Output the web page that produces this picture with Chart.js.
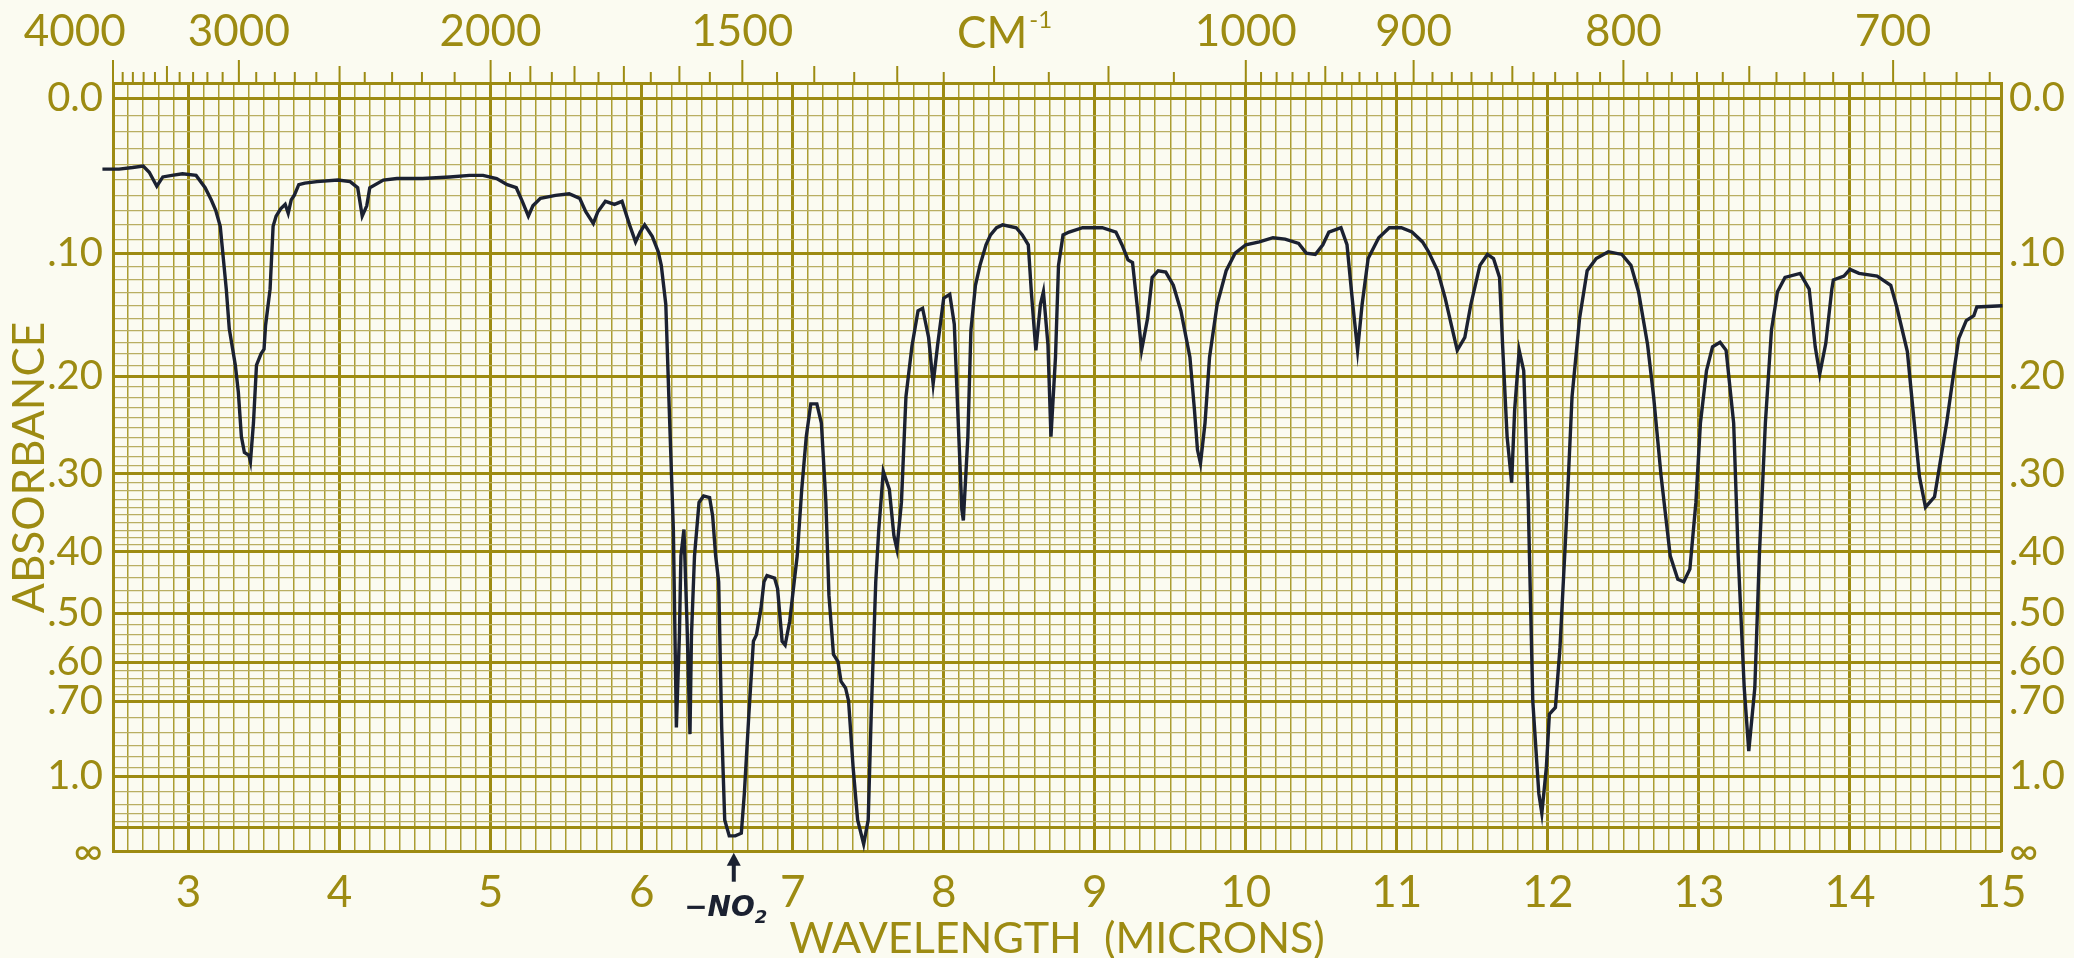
<!DOCTYPE html>
<html><head><meta charset="utf-8">
<script src="https://cdn.jsdelivr.net/npm/chart.js@4.4.1/dist/chart.umd.min.js"></script>
<style>
html,body{margin:0;padding:0;background:#fbfbf1;}
#wrap{width:2074px;height:958px;position:relative;background:#fbfbf1;}
canvas{display:block;}
</style></head><body><div id="wrap"><canvas id="c" width="2074" height="958"></canvas></div>
<script>
// ---- spectrum (wavelength in microns, absorbance) ----
const wavelengthMicrons = [
2.43,2.54,2.63,2.70,2.74,2.79,2.83,2.89,2.96,3.05,3.11,3.15,3.18,3.21,3.25,3.27,3.31,3.33,3.35,3.37,
3.40,3.41,3.43,3.45,3.48,3.50,3.51,3.54,3.56,3.58,3.61,3.64,3.66,3.68,3.70,3.73,3.77,3.85,3.99,4.07,
4.12,4.15,4.18,4.20,4.29,4.38,4.55,4.73,4.86,4.95,5.04,5.11,5.17,5.21,5.25,5.28,5.33,5.43,5.52,5.59,
5.63,5.68,5.71,5.76,5.82,5.87,5.92,5.96,5.99,6.02,6.07,6.11,6.13,6.16,6.18,6.21,6.23,6.25,6.26,6.28,
6.30,6.32,6.33,6.35,6.38,6.41,6.45,6.47,6.49,6.51,6.53,6.55,6.58,6.62,6.66,6.68,6.71,6.74,6.76,6.79,
6.81,6.83,6.88,6.90,6.93,6.95,6.98,7.01,7.03,7.06,7.09,7.12,7.16,7.19,7.22,7.24,7.27,7.30,7.32,7.35,
7.37,7.40,7.43,7.47,7.50,7.52,7.55,7.57,7.60,7.64,7.67,7.69,7.72,7.75,7.79,7.83,7.86,7.90,7.93,7.96,
8.00,8.04,8.07,8.10,8.12,8.13,8.16,8.18,8.21,8.24,8.28,8.31,8.35,8.39,8.48,8.52,8.56,8.58,8.61,8.64,
8.66,8.69,8.71,8.74,8.76,8.79,8.83,8.92,9.05,9.14,9.18,9.22,9.25,9.28,9.31,9.35,9.38,9.42,9.47,9.52,
9.57,9.63,9.66,9.68,9.70,9.73,9.76,9.81,9.87,9.93,10.00,10.09,10.18,10.26,10.35,10.40,10.46,10.51,10.55,10.63,
10.67,10.70,10.74,10.77,10.81,10.88,10.95,11.03,11.10,11.17,11.21,11.27,11.32,11.36,11.40,11.45,11.49,11.55,11.60,11.64,
11.68,11.70,11.73,11.76,11.78,11.81,11.84,11.87,11.90,11.94,11.96,11.99,12.01,12.05,12.08,12.12,12.16,12.21,12.26,12.32,
12.40,12.49,12.55,12.60,12.66,12.70,12.75,12.81,12.86,12.90,12.94,12.98,13.01,13.05,13.09,13.14,13.18,13.23,13.26,13.30,
13.33,13.37,13.40,13.44,13.48,13.52,13.57,13.67,13.73,13.77,13.80,13.84,13.88,13.89,13.96,14.00,14.06,14.18,14.27,14.31,
14.38,14.42,14.46,14.50,14.56,14.64,14.69,14.72,14.77,14.82,14.84,15.01
];
const absorbance = [
.043,.043,.042,.041,.045,.054,.048,.047,.046,.047,.055,.063,.070,.081,.127,.159,.190,.215,.259,.276,
.279,.286,.245,.190,.180,.176,.156,.127,.081,.074,.069,.066,.072,.063,.060,.053,.052,.051,.050,.051,
.055,.074,.067,.055,.050,.049,.049,.048,.047,.047,.049,.053,.055,.064,.074,.067,.062,.060,.059,.062,
.071,.079,.071,.064,.066,.064,.080,.092,.085,.080,.088,.099,.109,.139,.219,.369,.783,.541,.406,.369,
.515,.807,.541,.406,.334,.326,.328,.351,.406,.446,.783,1.376,1.677,1.677,1.610,1.112,.739,.554,.541,.491,
.446,.436,.440,.457,.554,.562,.515,.446,.406,.318,.259,.226,.226,.245,.334,.468,.582,.598,.646,.663,
.699,.950,1.376,2.0,1.376,.739,.446,.369,.297,.318,.377,.396,.334,.219,.173,.144,.142,.166,.207,.172,
.134,.131,.155,.259,.343,.357,.259,.160,.124,.109,.094,.087,.082,.080,.082,.087,.094,.129,.177,.139,
.129,.172,.259,.183,.109,.087,.085,.082,.082,.085,.094,.105,.107,.139,.177,.150,.118,.113,.114,.124,
.144,.183,.232,.273,.288,.245,.183,.139,.113,.100,.094,.092,.089,.090,.093,.100,.101,.094,.085,.082,
.094,.129,.177,.139,.104,.089,.082,.082,.085,.092,.099,.113,.134,.155,.177,.166,.139,.109,.101,.104,
.118,.172,.259,.310,.232,.177,.195,.334,.699,1.112,1.293,.950,.739,.718,.568,.369,.219,.150,.113,.104,
.099,.101,.109,.129,.172,.219,.303,.406,.442,.446,.426,.334,.245,.195,.174,.170,.177,.245,.406,.663,
.875,.663,.406,.245,.160,.129,.118,.115,.127,.174,.198,.171,.127,.120,.117,.112,.115,.117,.124,.141,
.178,.236,.303,.340,.327,.245,.194,.167,.152,.148,.141,.140
];

// ---- axis labels ----
const micronTickLabels = [3,4,5,6,7,8,9,10,11,12,13,14,15];
const absorbanceTickValues = [0, 0.10, 0.20, 0.30, 0.40, 0.50, 0.60, 0.70, 1.0, Infinity];
const absorbanceTickTexts  = ['0.0','.10','.20','.30','.40','.50','.60','.70','1.0','\u221E'];
const wavenumberTickLabels = [4000, 3000, 2000, 1500, 1000, 900, 800, 700];
const wavenumberUnit = 'CM';
const annotationText = '\u2212NO';
const annotationMicron = 6.61;
const unitLabelMicron = 8.37;

// ---- chart-paper rulings ----
const OLIVE = '#9d8b12';
const OLIVE_THIN = '#ab9d32';
const OLIVE_HTHIN = '#b9ae62';
const INK = '#1b2131';
const FONT = 'Lato, "Open Sans", sans-serif';

const toT = a => (a === Infinity ? 0 : Math.pow(10, -a));
const majorAbs = [0, .1, .2, .3, .4, .5, .6, .7, 1.0, 1.5];
const absGrid = [];
[[0, 0.4, 0.01], [0.4, 0.7, 0.02], [0.7, 1.0, 0.05], [1.0, 1.5, 0.1]].forEach(([a0, a1, st]) => {
  for (let a = a0; a < a1 - 1e-9; a += st) absGrid.push(Math.round(a * 1000) / 1000);
});
absGrid.push(1.5); absGrid.push(Infinity);
const tGrid = absGrid.map(toT);
const isMajorT = t => majorAbs.some(a => Math.abs(toT(a) - t) < 1e-9) || t === 0;
const micronGrid = [];
for (let i = 25; i <= 150; i++) micronGrid.push(i / 10);

const tickLabelForT = v => {
  const i = absorbanceTickValues.findIndex(a => Math.abs(toT(a) - v) < 1e-9);
  return i >= 0 ? absorbanceTickTexts[i] : '';
};

const topTicks = [];
for (let w = 4000; w > 2000; w -= 100) topTicks.push(w);
for (let w = 2000; w > 1000; w -= 50) topTicks.push(w);
for (let w = 1000; w >= 670; w -= 10) topTicks.push(w);

const paperPlugin = {
  id: 'paper',
  afterDraw(chart) {
    const {ctx, chartArea, scales: {x}} = chart;
    ctx.save();
    ctx.strokeStyle = OLIVE;
    ctx.lineWidth = 2;
    topTicks.forEach(w => {
      const px = x.getPixelForValue(10000 / w);
      let len = 11;
      if (w % 1000 === 0 || (w <= 2000 && w % 500 === 0) || (w <= 1000 && w % 100 === 0)) len = 23;
      else if ((w > 2000 && w % 500 === 0) || (w <= 2000 && w > 1000 && w % 100 === 0) || (w <= 1000 && w % 50 === 0)) len = 17;
      ctx.beginPath();
      ctx.moveTo(px, chartArea.top);
      ctx.lineTo(px, chartArea.top - len);
      ctx.stroke();
    });
    // CM^-1 label
    ctx.fillStyle = OLIVE;
    ctx.font = '400 44px ' + FONT;
    ctx.textBaseline = 'alphabetic';
    const cx = x.getPixelForValue(unitLabelMicron);
    const w1 = ctx.measureText(wavenumberUnit).width;
    ctx.font = '400 24px ' + FONT;
    const w2 = ctx.measureText('-1').width;
    const sx = cx - (w1 + w2) / 2 + 4;
    ctx.font = '400 44px ' + FONT;
    ctx.textAlign = 'left';
    ctx.fillText(wavenumberUnit, sx, 48);
    ctx.font = '400 24px ' + FONT;
    ctx.fillText('-1', sx + w1 + 2, 28);
    // annotation arrow + -NO2
    const ax = x.getPixelForValue(annotationMicron);
    const yb = chartArea.bottom;
    ctx.strokeStyle = INK; ctx.fillStyle = INK;
    ctx.lineWidth = 4;
    ctx.beginPath(); ctx.moveTo(ax, yb + 10); ctx.lineTo(ax, yb + 30); ctx.stroke();
    ctx.beginPath(); ctx.moveTo(ax, yb + 1); ctx.lineTo(ax - 7, yb + 14); ctx.lineTo(ax + 7, yb + 14); ctx.closePath(); ctx.fill();
    ctx.font = 'italic bold 28px "DejaVu Sans", sans-serif';
    ctx.textAlign = 'left';
    const tw = ctx.measureText(annotationText).width;
    ctx.font = 'italic bold 18px "DejaVu Sans", sans-serif';
    const tw2 = ctx.measureText('2').width;
    const tx = ax - 8 - (tw + tw2) / 2;
    ctx.font = 'italic bold 28px "DejaVu Sans", sans-serif';
    ctx.fillText(annotationText, tx, yb + 64);
    ctx.font = 'italic bold 18px "DejaVu Sans", sans-serif';
    ctx.fillText('2', tx + tw, yb + 71);
    ctx.restore();
  }
};

const points = wavelengthMicrons.map((w, i) => ({x: w, y: toT(absorbance[i])}));

new Chart(document.getElementById('c'), {
  type: 'line',
  data: { datasets: [{
    data: points, borderColor: INK, borderWidth: 3.4, pointRadius: 0, tension: 0,
    fill: false, clip: false, xAxisID: 'x', yAxisID: 'y'
  }]},
  options: {
    responsive: false, animation: false, devicePixelRatio: 1,
    layout: { padding: 0 },
    plugins: { legend: {display: false}, tooltip: {enabled: false} },
    scales: {
      x: {
        type: 'linear', position: 'bottom', min: 2.5, max: 15,
        afterBuildTicks: s => { s.ticks = micronGrid.map(v => ({value: v})); },
        afterFit: s => { s.height = 106.3; s.paddingLeft = 0; s.paddingRight = 0; },
        ticks: {
          autoSkip: false, maxRotation: 0, padding: 15, color: OLIVE,
          font: {family: FONT, size: 44, weight: '400'},
          callback: v => { const r = Math.round(v); return (Math.abs(v - r) < 1e-6 && micronTickLabels.includes(r)) ? String(r) : ''; }
        },
        grid: {
          drawTicks: false,
          color: c => { const v = c.tick ? c.tick.value : 0; return Math.abs(v - Math.round(v)) < 1e-6 ? OLIVE : OLIVE_THIN; },
          lineWidth: c => { const v = c.tick ? c.tick.value : 0; return Math.abs(v - Math.round(v)) < 1e-6 ? 3 : 1.5; }
        },
        border: {display: true, color: OLIVE, width: 3},
        title: { display: true, text: 'WAVELENGTH  (MICRONS)', color: OLIVE,
          font: {family: FONT, size: 43, weight: '400', lineHeight: 0.9}, padding: 0 }
      },
      x2: {
        type: 'linear', position: 'top', min: 2.5, max: 15,
        afterBuildTicks: s => { s.ticks = wavenumberTickLabels.map(w => ({value: 10000 / w})); },
        afterFit: s => { s.height = 83; s.paddingLeft = 0; s.paddingRight = 0; },
        ticks: {
          autoSkip: false, maxRotation: 0, padding: 25, color: OLIVE,
          font: {family: FONT, size: 44, weight: '400'},
          callback: v => {
            const w = Math.round(10000 / v);
            if (!wavenumberTickLabels.includes(w)) return '';
            // the printed 4000 sits left of its ruling
            return w === 4000 ? String(w) + '\u2007\u2007\u2007' : String(w);
          }
        },
        grid: { drawOnChartArea: false, drawTicks: false },
        border: {display: true, color: OLIVE, width: 3}
      },
      y: {
        type: 'linear', position: 'left', min: 0, max: 1.02,
        afterBuildTicks: s => { s.ticks = tGrid.map(v => ({value: v})); },
        afterFit: s => { s.width = 113; s.paddingTop = 0; s.paddingBottom = 0; },
        ticks: {
          autoSkip: false, padding: 10, color: OLIVE,
          font: {family: FONT, size: 40, weight: '400'},
          callback: v => tickLabelForT(v)
        },
        grid: {
          drawTicks: false,
          color: c => (c.tick && isMajorT(c.tick.value)) ? OLIVE : OLIVE_HTHIN,
          lineWidth: c => (c.tick && isMajorT(c.tick.value)) ? 3 : 1.2
        },
        border: {display: true, color: OLIVE, width: 3},
        title: { display: true, text: 'ABSORBANCE', color: OLIVE,
          font: {family: FONT, size: 44, weight: '400'}, padding: {top: 3, bottom: 0} }
      },
      y2: {
        type: 'linear', position: 'right', min: 0, max: 1.02,
        afterBuildTicks: s => { s.ticks = absorbanceTickValues.map(a => ({value: toT(a)})); },
        afterFit: s => { s.width = 73; s.paddingTop = 0; s.paddingBottom = 0; },
        ticks: {
          autoSkip: false, padding: 8, color: OLIVE,
          font: {family: FONT, size: 40, weight: '400'},
          callback: v => tickLabelForT(v)
        },
        grid: { drawOnChartArea: false, drawTicks: false },
        border: {display: true, color: OLIVE, width: 3}
      }
    }
  },
  plugins: [paperPlugin]
});
</script></body></html>
